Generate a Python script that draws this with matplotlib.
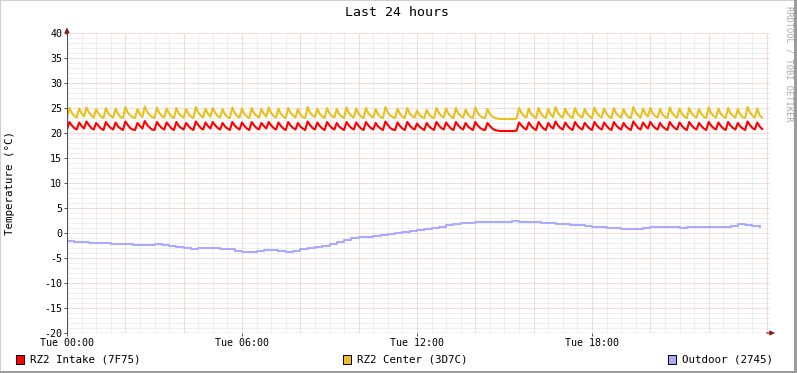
import matplotlib
matplotlib.use("Agg")
import matplotlib.pyplot as plt
from matplotlib.patches import Rectangle
import numpy as np

# 5-minute samples, one row per hour
intake = [
    20.7, 22.2, 21.5, 21.0, 20.7, 22.1, 21.4, 20.9, 22.3, 21.6, 21.0, 20.7,
    22.0, 21.4, 20.9, 20.6, 22.2, 21.5, 21.0, 20.7, 22.1, 21.3, 20.9, 20.6,
    22.3, 21.6, 21.0, 20.7, 20.6, 22.0, 21.4, 20.9, 22.4, 21.6, 21.1, 20.7,
    20.6, 22.2, 21.5, 21.0, 20.7, 22.1, 21.5, 20.9, 20.6, 22.2, 21.4, 21.0,
    20.7, 22.0, 21.4, 20.9, 20.6, 22.3, 21.6, 21.0, 20.7, 22.1, 21.4, 20.9,
    22.2, 21.5, 21.0, 20.7, 22.0, 21.3, 20.9, 20.6, 22.2, 21.5, 21.0, 20.7,
    22.1, 21.4, 20.9, 20.6, 22.2, 21.5, 21.0, 20.7, 22.0, 21.4, 20.9, 22.2,
    21.5, 21.0, 20.7, 22.1, 21.4, 20.9, 20.6, 22.2, 21.5, 21.0, 20.7, 22.0,
    21.3, 20.9, 20.6, 22.3, 21.6, 21.0, 20.7, 22.1, 21.4, 20.9, 20.6, 22.2,
    21.5, 21.0, 20.7, 22.0, 21.3, 20.9, 20.6, 22.2, 21.5, 21.0, 20.7, 22.1,
    21.4, 20.9, 20.6, 22.2, 21.5, 21.0, 20.7, 22.0, 21.3, 20.9, 20.6, 22.3,
    21.6, 21.0, 20.7, 20.6, 22.1, 21.4, 20.9, 20.6, 22.2, 21.5, 21.0, 20.7,
    21.9, 21.3, 20.9, 20.6, 22.0, 21.3, 20.9, 20.6, 22.2, 21.5, 21.0, 20.7,
    22.1, 21.4, 20.9, 20.6, 22.2, 21.5, 21.0, 20.7, 22.0, 21.3, 20.9, 20.6,
    22.2, 21.5, 21.0, 20.7, 20.6, 22.0, 21.4, 20.9, 20.6, 20.5, 20.4, 20.4,
    20.4, 20.4, 20.4, 20.4, 20.4, 20.5, 22.1, 21.5, 21.0, 20.7, 22.1, 21.4,
    20.9, 20.6, 22.2, 21.5, 20.9, 20.6, 22.0, 21.3, 20.9, 22.3, 21.5, 21.0,
    20.7, 22.1, 21.4, 20.9, 20.6, 22.2, 21.5, 21.0, 20.7, 22.0, 21.4, 20.9,
    20.6, 22.2, 21.5, 21.0, 20.7, 22.1, 21.4, 20.9, 20.6, 22.2, 21.5, 21.0,
    20.7, 22.0, 21.3, 20.9, 20.6, 22.3, 21.6, 21.0, 20.7, 22.1, 21.4, 20.9,
    22.2, 21.5, 21.0, 20.7, 22.0, 21.3, 20.9, 20.6, 22.2, 21.5, 21.0, 20.7,
    22.1, 21.4, 20.9, 20.6, 22.2, 21.5, 21.0, 20.7, 22.0, 21.4, 20.9, 20.6,
    22.2, 21.5, 21.0, 20.7, 22.1, 21.4, 20.9, 20.6, 22.2, 21.5, 21.0, 20.7,
    22.0, 21.3, 20.9, 20.6, 22.3, 21.6, 21.0, 20.7, 22.1, 21.3, 20.8,
]

center = [
    23.0, 25.0, 24.0, 23.4, 23.1, 24.9, 23.9, 23.3, 25.1, 24.1, 23.5, 23.1,
    24.8, 23.8, 23.3, 23.0, 25.0, 23.9, 23.4, 23.1, 24.9, 23.8, 23.2, 23.0,
    25.2, 24.1, 23.5, 23.2, 23.0, 24.8, 23.7, 23.2, 25.3, 24.2, 23.6, 23.2,
    23.0, 25.1, 24.0, 23.4, 23.1, 24.9, 23.9, 23.3, 23.0, 25.0, 23.9, 23.4,
    23.1, 24.8, 23.8, 23.3, 23.0, 25.2, 24.1, 23.5, 23.1, 24.9, 23.8, 23.3,
    25.0, 24.0, 23.4, 23.1, 24.8, 23.7, 23.2, 23.0, 25.1, 24.0, 23.4, 23.1,
    24.9, 23.8, 23.3, 23.0, 25.0, 23.9, 23.4, 23.1, 24.8, 23.8, 23.3, 25.1,
    24.0, 23.4, 23.1, 24.9, 23.8, 23.3, 23.0, 25.0, 24.0, 23.5, 23.1, 24.8,
    23.7, 23.2, 23.0, 25.2, 24.1, 23.5, 23.2, 24.9, 23.8, 23.3, 23.0, 25.0,
    23.9, 23.4, 23.1, 24.8, 23.7, 23.3, 23.0, 25.1, 24.0, 23.4, 23.1, 24.9,
    23.8, 23.3, 23.0, 25.0, 23.9, 23.4, 23.1, 24.8, 23.7, 23.2, 23.0, 25.2,
    24.1, 23.5, 23.2, 23.0, 24.9, 23.8, 23.3, 23.0, 25.0, 23.9, 23.4, 23.1,
    24.5, 23.6, 23.2, 23.0, 24.6, 23.7, 23.2, 23.0, 25.0, 24.0, 23.4, 23.1,
    24.9, 23.8, 23.3, 23.0, 25.0, 23.9, 23.4, 23.1, 24.7, 23.7, 23.2, 23.0,
    25.1, 24.0, 23.4, 23.1, 23.0, 24.8, 23.8, 23.3, 23.0, 22.9, 22.8, 22.8,
    22.8, 22.8, 22.8, 22.8, 22.8, 22.9, 25.0, 24.0, 23.4, 23.1, 24.9, 23.8,
    23.3, 23.0, 25.0, 23.9, 23.3, 23.0, 24.8, 23.7, 23.2, 25.2, 24.0, 23.4,
    23.1, 24.9, 23.8, 23.3, 23.0, 25.0, 23.9, 23.4, 23.1, 24.8, 23.8, 23.3,
    23.0, 25.1, 24.0, 23.4, 23.1, 24.9, 23.8, 23.3, 23.0, 25.0, 23.9, 23.4,
    23.1, 24.8, 23.7, 23.2, 23.0, 25.2, 24.1, 23.5, 23.1, 24.9, 23.8, 23.3,
    25.0, 23.9, 23.4, 23.1, 24.8, 23.7, 23.2, 23.0, 25.1, 24.0, 23.4, 23.1,
    24.9, 23.8, 23.3, 23.0, 25.0, 23.9, 23.4, 23.1, 24.8, 23.8, 23.3, 23.0,
    25.1, 24.0, 23.4, 23.1, 24.9, 23.8, 23.3, 23.0, 25.0, 23.9, 23.4, 23.1,
    24.8, 23.7, 23.2, 23.0, 25.2, 24.1, 23.5, 23.1, 24.9, 23.5, 23.1,
]

# 15-minute samples, one row per hour
outdoor = [
    -1.6, -1.7, -1.8, -1.9,
    -1.9, -2.0, -2.1, -2.1,
    -2.2, -2.3, -2.4, -2.3,
    -2.2, -2.4, -2.6, -2.7,
    -3.0, -3.1, -2.9, -2.9,
    -3.0, -3.1, -3.2, -3.5,
    -3.8, -3.7, -3.5, -3.3,
    -3.4, -3.6, -3.7, -3.5,
    -3.2, -3.0, -2.7, -2.5,
    -2.2, -1.8, -1.4, -1.0,
    -0.8, -0.7, -0.6, -0.4,
    -0.2, 0.0, 0.3, 0.5,
    0.6, 0.8, 1.0, 1.3,
    1.6, 1.8, 2.0, 2.1,
    2.2, 2.3, 2.2, 2.3,
    2.3, 2.4, 2.3, 2.3,
    2.2, 2.1, 2.0, 1.9,
    1.8, 1.7, 1.6, 1.5,
    1.3, 1.2, 1.1, 1.0,
    0.9, 0.8, 0.9, 1.0,
    1.2, 1.3, 1.2, 1.2,
    1.1, 1.2, 1.3, 1.3,
    1.3, 1.2, 1.3, 1.5,
    1.8, 1.7, 1.5, 1.3,
]

series_names = ["RZ2 Intake (7F75)", "RZ2 Center (3D7C)", "Outdoor (2745)"]
series_colors = ["#FF0000", "#E8C020", "#AAAAFF"]
xtick_hours = [0, 6, 12, 18]
xtick_labels = ["Tue 00:00", "Tue 06:00", "Tue 12:00", "Tue 18:00"]

mono = "DejaVu Sans Mono"
W, H = 797, 373

fig = plt.figure(figsize=(W / 100, H / 100), dpi=100)
fig.patch.set_facecolor("white")

# plot area: x 67..770 px, y 33..333 px
ax = fig.add_axes([67 / W, 1 - 333 / H, (770 - 67) / W, 300 / H])
ax.set_facecolor("white")
xmax = 24 * (770 - 67) / 700
ax.set_xlim(0, xmax)
ax.set_ylim(-20, 40)

dot = (0, (1, 1))
major_col, minor_col = "#EFB8B8", "#E0E0E0"
for h in np.arange(0, xmax, 0.5):
    major = abs(h / 2 - round(h / 2)) < 1e-6
    ax.axvline(h, color=major_col if major else minor_col, lw=0.72,
               ls=dot, zorder=1 if major else 0)
for v in range(-20, 41):
    major = v % 5 == 0
    ax.axhline(v, color=major_col if major else minor_col, lw=0.72,
               ls=dot, zorder=1 if major else 0)

t5 = np.arange(len(intake)) * 5 / 60
t15 = np.arange(len(outdoor)) * 15 / 60
ax.plot(t5, intake, color=series_colors[0], lw=1.5, zorder=3)
ax.plot(t5[:len(center)], center, color=series_colors[1], lw=1.5, zorder=3)
ax.plot(t15, outdoor, color=series_colors[2], lw=1.5, drawstyle="steps-post", zorder=3)

for s in ax.spines.values():
    s.set_visible(False)

ax.set_xticks(xtick_hours)
ax.set_xticklabels(xtick_labels, fontfamily=mono, fontsize=7.2)
ax.set_yticks(range(-20, 41, 5))
ax.set_yticklabels([str(v) for v in range(-20, 41, 5)], fontfamily=mono, fontsize=7.2)
ax.tick_params(axis="both", length=2, width=0.7, color="#505050", pad=1.5)

# axis lines, dark grey, with small dark red arrow heads
ax.axhline(-20, color="#505050", lw=0.8, zorder=4)
ax.axvline(0, color="#505050", lw=0.8, zorder=4)
ax.annotate("", xy=(1.007, 0), xytext=(0.995, 0), xycoords="axes fraction",
            arrowprops=dict(arrowstyle="-|>", color="#8B1A1A", lw=0.8,
                            mutation_scale=7, shrinkA=0, shrinkB=0),
            annotation_clip=False, zorder=5)
ax.annotate("", xy=(0, 1.018), xytext=(0, 0.995), xycoords="axes fraction",
            arrowprops=dict(arrowstyle="-|>", color="#8B1A1A", lw=0.8,
                            mutation_scale=7, shrinkA=0, shrinkB=0),
            annotation_clip=False, zorder=5)

fig.text(397 / W, 1 - 13 / H, "Last 24 hours", ha="center", va="center",
         fontfamily=mono, fontsize=9.5)
fig.text(10 / W, 1 - 183 / H, "Temperature (°C)", ha="center", va="center",
         rotation=90, fontfamily=mono, fontsize=7.8)
fig.text(789 / W, 1 - 6 / H, "RRDTOOL / TOBI OETIKER", ha="center", va="top",
         rotation=270, fontfamily=mono, fontsize=6.2, color="#A8A8A8")

# legend
legend_x = [16, 343, 668]
for lx, name, col in zip(legend_x, series_names, series_colors):
    fig.patches.append(Rectangle((lx / W, 1 - 364 / H), 8 / W, 9 / H,
                                 transform=fig.transFigure, facecolor=col,
                                 edgecolor="black", lw=0.7))
    fig.text((lx + 14) / W, 1 - 359 / H, name, ha="left", va="center",
             fontfamily=mono, fontsize=7.8)

# image border
fig.patches.append(Rectangle((0, 0), 1, 1, transform=fig.transFigure,
                             fill=False, edgecolor="#D0D0D0", lw=1.5))
fig.patches.append(Rectangle((0, 0), 1, 0.005, transform=fig.transFigure,
                             facecolor="#9C9C9C", edgecolor="none"))
fig.patches.append(Rectangle((0.9965, 0), 0.0035, 1, transform=fig.transFigure,
                             facecolor="#9C9C9C", edgecolor="none"))

fig.savefig("out.png", dpi=100)
